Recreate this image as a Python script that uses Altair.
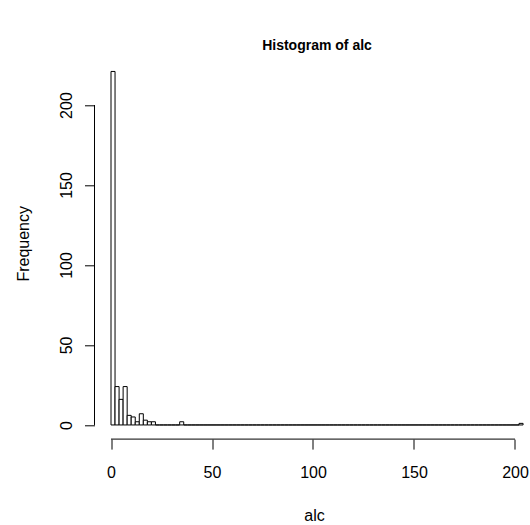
import altair as alt
import pandas as pd
import numpy as np

# Histogram of alc: breaks every 2 units from 0 to 204
break_start = 0
break_end = 204
break_width = 2

# Non-empty bins (left edge) and their counts
bin_starts = [0, 2, 4, 6, 8, 10, 12, 14, 16, 18, 20, 34, 202]
counts = [221, 24, 16, 24, 6, 5, 2, 7, 3, 2, 2, 2, 1]

x_ticks = [0, 50, 100, 150, 200]
y_ticks = [0, 50, 100, 150, 200]

# full set of bins, empty ones drawn as flat rectangles on the baseline
lefts = np.arange(break_start, break_end, break_width)
count_map = dict(zip(bin_starts, counts))
bins = pd.DataFrame({
    "lo": lefts,
    "hi": lefts + break_width,
    "n": [count_map.get(int(v), 0) for v in lefts],
})

W = 435.5
H = 381.8
FONT = "Liberation Sans"

x_scale = alt.Scale(domain=[-8.17, 207.43], nice=False, zero=False)
y_scale = alt.Scale(domain=[-8.84, 229.84], nice=False, zero=False)

x_axis = alt.Axis(
    values=x_ticks, domain=False, grid=False, tickSize=10, tickColor="black",
    labelFontSize=16, labelFont=FONT, labelColor="black", labelPadding=15,
    labelFlush=False, labelOverlap=False,
    title="alc", titleFontSize=16, titleFont=FONT, titleFontWeight="normal",
    titleColor="black", titleX=219.5, titleY=81, titleAlign="center",
    titleBaseline="alphabetic",
)
y_axis = alt.Axis(
    values=y_ticks, domain=False, grid=False, tickSize=10, tickColor="black",
    labelFontSize=16, labelFont=FONT, labelColor="black", labelAngle=270,
    labelAlign="center", labelBaseline="alphabetic", labelPadding=13,
    labelFlush=False, labelOverlap=False,
    title="Frequency", titleFontSize=16, titleFont=FONT, titleFontWeight="normal",
    titleColor="black", titleAngle=270, titleX=-66, titleY=186,
    titleAlign="center", titleBaseline="alphabetic",
)

bars = alt.Chart(bins).mark_rect(
    fill="white", stroke="black", strokeWidth=1
).encode(
    x=alt.X("lo:Q", scale=x_scale, axis=x_axis),
    x2="hi:Q",
    y=alt.Y("n:Q", scale=y_scale, axis=y_axis),
    y2=alt.datum(0),
)

# axis lines spanning first to last tick only
x_line = alt.Chart(pd.DataFrame({"a": [x_ticks[0]], "b": [x_ticks[-1]]})).mark_rule(
    color="black", strokeWidth=1
).encode(
    x=alt.X("a:Q", scale=x_scale), x2="b:Q", y=alt.value(H)
)
y_line = alt.Chart(pd.DataFrame({"a": [y_ticks[0]], "b": [y_ticks[-1]]})).mark_rule(
    color="black", strokeWidth=1
).encode(
    y=alt.Y("a:Q", scale=y_scale), y2="b:Q", x=alt.value(0)
)

chart = alt.layer(bars, x_line, y_line).properties(
    width=W,
    height=H,
    title=alt.TitleParams(
        "Histogram of alc", font=FONT, fontSize=14, fontWeight="bold",
        color="black", anchor="middle", dx=4.75, dy=36, offset=29,
        baseline="alphabetic",
    ),
    autosize=alt.AutoSizeParams(type="none"),
    padding={"left": 94.5, "top": 57.3, "right": 0, "bottom": 85.9},
).configure(background="white").configure_view(stroke=None, strokeWidth=0)

chart.save("out.html", embed_options={"renderer": "svg", "actions": False})
